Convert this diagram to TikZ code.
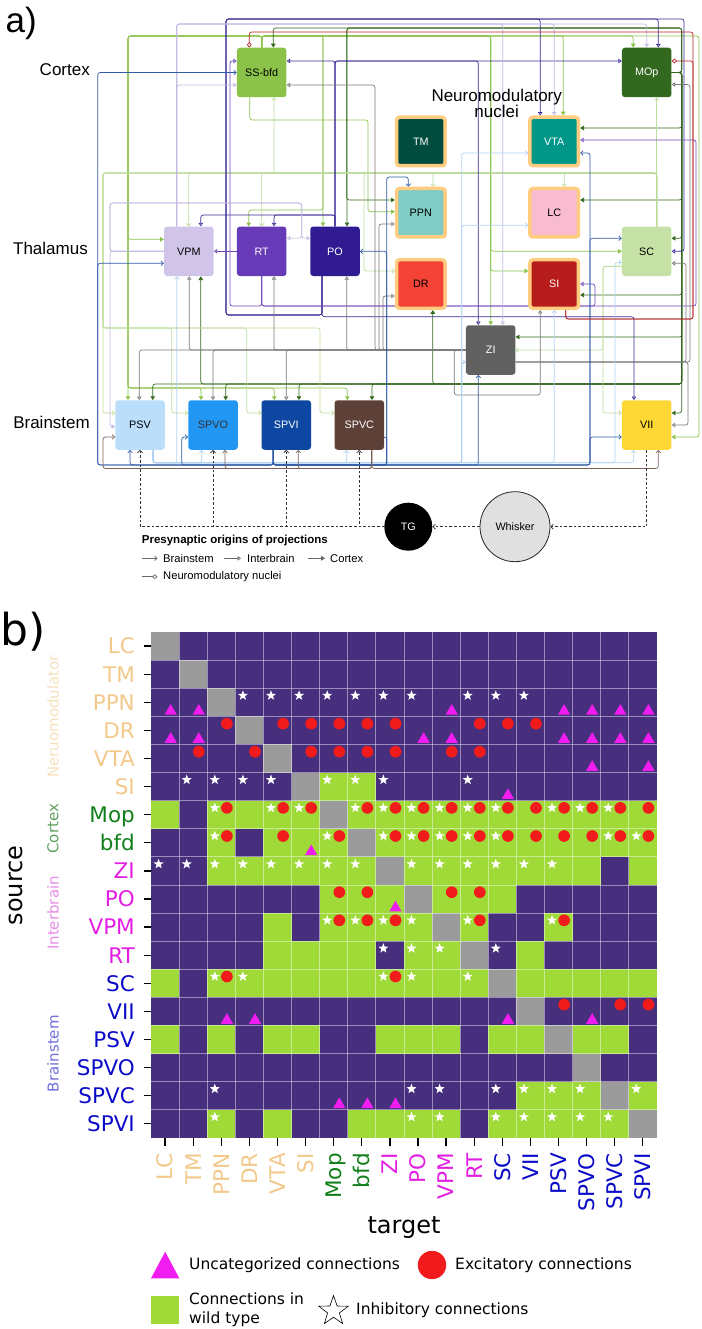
\documentclass[tikz,border=0pt]{standalone}
\usepackage{fontspec}
\setmainfont{DejaVu Sans}
\newfontfamily\arialfont{Liberation Sans}
\usetikzlibrary{arrows.meta,calc,shapes.geometric,shadows,backgrounds}
\definecolor{cSSbfd}{HTML}{8BC34A}
\definecolor{cMOp}{HTML}{33691E}
\definecolor{cVPM}{HTML}{D1C4E9}
\definecolor{cRT}{HTML}{673AB7}
\definecolor{cPO}{HTML}{311B92}
\definecolor{cTM}{HTML}{004D40}
\definecolor{cVTA}{HTML}{009688}
\definecolor{cPPN}{HTML}{80CBC4}
\definecolor{cLC}{HTML}{F8BBD0}
\definecolor{cDR}{HTML}{F44336}
\definecolor{cSI}{HTML}{B71C1C}
\definecolor{cSC}{HTML}{C5E1A5}
\definecolor{cZI}{HTML}{616161}
\definecolor{cPSV}{HTML}{BBDEFB}
\definecolor{cSPVO}{HTML}{2196F3}
\definecolor{cSPVI}{HTML}{0D47A1}
\definecolor{cSPVC}{HTML}{5D4037}
\definecolor{cVII}{HTML}{FDD835}
\definecolor{cNeuro}{HTML}{FFCC80}
\definecolor{cWhisker}{HTML}{E0E0E0}
\definecolor{lnSC}{HTML}{BCDC9C}
\definecolor{lnZI}{HTML}{7A7A7A}
\definecolor{lnPSV}{HTML}{B0D2F2}
\definecolor{lnSPVI}{HTML}{2F5AA5}
\definecolor{lnSPVC}{HTML}{7A6258}
\definecolor{lnVPM}{HTML}{C4B7E2}
\definecolor{lnPO}{HTML}{3A2A96}
\definecolor{lnRT}{HTML}{6E48B8}
\definecolor{lnSI}{HTML}{B52424}
\definecolor{cellP}{HTML}{472F7E}
\definecolor{cellG}{HTML}{A0DA39}
\definecolor{cellX}{HTML}{9B9B9B}
\definecolor{mkRed}{HTML}{F21B1B}
\definecolor{mkTri}{HTML}{F01CF0}
\definecolor{labNeu}{HTML}{F3C98B}
\definecolor{labCtx}{HTML}{12801A}
\definecolor{labInt}{HTML}{E31EE3}
\definecolor{labBst}{HTML}{0B0BC8}
\definecolor{grpNeu}{HTML}{F6E0BC}
\definecolor{grpCtx}{HTML}{5E9E5E}
\definecolor{grpInt}{HTML}{E88AE8}
\definecolor{grpBst}{HTML}{6E6EDC}
\begin{document}
\begin{tikzpicture}[x=1pt,y=-1pt,
  nucbox/.style={rounded corners=3pt, minimum size=49.5, inner sep=0pt, font=\arialfont\fontsize{10.8}{12}\selectfont},
  neubox/.style={nucbox, draw=cNeuro, line width=3.5pt, minimum size=48.5, drop shadow={shadow xshift=1.5pt, shadow yshift=-1.5pt, opacity=0.3}},
  region/.style={anchor=east, inner sep=0pt, font=\arialfont\fontsize{17}{20}\selectfont},
  conn/.style={line width=0.7pt, rounded corners=2.5pt},
  bs/.style={conn, -{Straight Barb[length=2.4pt,width=4.6pt]}},
  ib/.style={conn, -{Triangle[open,length=3.4pt,width=4.4pt]}},
  cx/.style={conn, -{Triangle[length=3.8pt,width=4.6pt]}},
  nm/.style={conn, -{Diamond[open,length=5.5pt,width=4.8pt]}},
  sens/.style={line width=0.75pt, dash pattern=on 2.6pt off 2pt, black!80, -{Straight Barb[length=2.4pt,width=5pt]}},
  leglbl/.style={anchor=west, inner sep=0pt, font=\arialfont\fontsize{11.2}{13}\selectfont},
  rowlbl/.style={anchor=east, inner sep=0pt, font=\fontsize{21.5}{24}\selectfont, text height=15.7pt, text depth=0pt},
  collbl/.style={rowlbl, rotate=90},
  grplbl/.style={rotate=90, inner sep=0pt, font=\fontsize{15}{17}\selectfont},
  tickmk/.style={line width=1.3pt, black},
  gridln/.style={white, opacity=0.45, line width=0.8pt},
  mkstar/.style={star, star points=5, star point ratio=2.4, minimum size=10.5, inner sep=0pt, fill=white},
  mkcirc/.style={circle, minimum size=11.7, inner sep=0pt, fill=mkRed},
  mktri/.style={regular polygon, regular polygon sides=3, minimum size=14.2, inner sep=0pt, fill=mkTri},
  keylbl/.style={anchor=west, inner sep=0pt, font=\fontsize{15.5}{18.7}\selectfont, align=left}
]
\useasboundingbox (0,0) rectangle (701,1329);

% a) nuclei
\node[nucbox, fill=cSSbfd] (ssbfd) at (261.7,72.5) {SS-bfd};
\node[nucbox, fill=cMOp, text=white] (mop) at (646.7,72.5) {MOp};
\node[nucbox, fill=cVPM] (vpm) at (188.8,251.3) {VPM};
\node[nucbox, fill=cRT, text=white] (rt) at (261.7,251.3) {RT};
\node[nucbox, fill=cPO, text=white] (po) at (335,251.3) {PO};
\node[nucbox, fill=cSC] (sc) at (646.7,251.3) {SC};
\node[nucbox, fill=cZI, text=white] (zi) at (490.7,350) {ZI};
\node[nucbox, fill=cPSV] (psv) at (140,425) {PSV};
\node[nucbox, fill=cSPVO, text=black!80] (spvo) at (213,425) {SPVO};
\node[nucbox, fill=cSPVI, text=white] (spvi) at (286.3,425) {SPVI};
\node[nucbox, fill=cSPVC, text=white] (spvc) at (359.3,425) {SPVC};
\node[nucbox, fill=cVII] (vii) at (646.7,425) {VII};
\node[neubox, fill=cTM, text=white] (tm) at (420.8,141.5) {TM};
\node[neubox, fill=cVTA, text=white] (vta) at (554.2,141.5) {VTA};
\node[neubox, fill=cPPN] (ppn) at (420.8,212.7) {PPN};
\node[neubox, fill=cLC] (lc) at (554.2,212.7) {LC};
\node[neubox, fill=cDR] (dr) at (420.8,284) {DR};
\node[neubox, fill=cSI, text=white] (si) at (554.2,284) {SI};
\node[circle, fill=black, minimum size=48, inner sep=0pt, text=white, font=\arialfont\fontsize{10.8}{12}\selectfont] (tg) at (408.3,526.7) {TG};
\node[circle, draw=black!85, line width=0.8pt, fill=cWhisker, minimum size=70, inner sep=0pt, font=\arialfont\fontsize{10.8}{12}\selectfont] (whisker) at (515,526.7) {Whisker};

\begin{scope}[on background layer]
% SS-bfd
\draw[cx,cSSbfd] (ssbfd.north) |- (128,36) |- ($(vpm.west)+(0,-12)$);
\draw[cx,cSSbfd] (ssbfd.north) |- (128,36) -- ($(psv.north)+(-12,0)$);
\draw[cx,cSSbfd] (ssbfd.north) |- (128,36) |- (201,388) -- ($(spvo.north)+(-12,0)$);
\draw[cx,cSSbfd] (ssbfd.north) |- (128,36) |- (274.3,388) -- ($(spvi.north)+(-12,0)$);
\draw[cx,cSSbfd] (ssbfd.north) |- (128,36) |- (347.3,388) -- ($(spvc.north)+(-12,0)$);
\draw[cx,cSSbfd] (ssbfd.north) |- (323,36) |- (248.7,210) -- ($(rt.north)+(-13,0)$);
\draw[cx,cSSbfd] (ssbfd.north) |- (323,36) -- ($(po.north)+(-12,0)$);
\draw[cx,cSSbfd] (ssbfd.north) |- (490.7,36) -- (zi.north);
\draw[cx,cSSbfd] (ssbfd.north) |- (490.7,36) |- ($(si.west)+(0,-13)$);
\draw[cx,cSSbfd] (ssbfd.north) |- (490.7,36) |- (sc.west);
\draw[cx,cSSbfd] (ssbfd.north) |- (563.2,36) -- ($(vta.north)+(9,0)$);
\draw[cx,cSSbfd] (ssbfd.north) |- (633.2,36) -- ($(mop.north)+(-13.5,0)$);
\draw[cx,cSSbfd] (ssbfd.north) |- (699,36) |- ($(vii.east)+(0,12)$);
\draw[cx,cSSbfd] ($(ssbfd.south)+(-12,0)$) |- (368,120) |- ($(ppn.west)+(0,-1)$);
% MOp
\draw[cx,cMOp] (mop.east) -| (681.7,28) -| ($(ssbfd.north)+(11.6,0)$);
\draw[cx,cMOp] (mop.east) -| (681.7,28) -| ($(po.north)+(12,0)$);
\draw[cx,cMOp] (mop.east) -| (681.7,28) -| (346.7,200) -- ($(ppn.west)+(0,-12.7)$);
\draw[cx,cMOp] (mop.east) -| (681.7,128) -- ($(vta.east)+(0,-13.5)$);
\draw[cx,cMOp] (mop.east) -| (681.7,200) -- ($(lc.east)+(0,-12.7)$);
\draw[cx,cMOp] (mop.east) -| (681.7,238.3) -- ($(sc.east)+(0,-13)$);
\draw[cx,cMOp] (mop.east) -| (681.7,295) -- ($(si.east)+(0,11)$);
\draw[cx,cMOp] (mop.east) -| (681.7,337) -- ($(zi.east)+(0,-13)$);
\draw[cx,cMOp] (mop.east) -| (681.7,413) -- ($(vii.east)+(0,-12)$);
\draw[cx,cMOp] (mop.east) -| (681.7,384) -| ($(dr.south)+(12,0)$);
\draw[cx,cMOp] (mop.east) -| (681.7,384) -| ($(vpm.south)+(12,0)$);
\draw[cx,cMOp] (mop.east) -| (681.7,384) -| ($(psv.north)+(12.7,0)$);
\draw[cx,cMOp] (mop.east) -| (681.7,384) -| ($(spvo.north)+(12.7,0)$);
\draw[cx,cMOp] (mop.east) -| (681.7,384) -| ($(spvi.north)+(12.7,0)$);
\draw[cx,cMOp] (mop.east) -| (681.7,384) -| ($(spvc.north)+(12.7,0)$);
% SC
\draw[bs,lnSC] ($(sc.north)+(10,0)$) -- ($(mop.south)+(10,0)$);
\draw[bs,lnSC] ($(sc.north)+(10,0)$) |- (274,173) -- ($(ssbfd.south)+(12.3,0)$);
\draw[bs,lnSC] ($(sc.north)+(10,0)$) |- (188.8,173) -- (vpm.north);
\draw[bs,lnSC] ($(sc.north)+(10,0)$) |- (261.7,173) -- (rt.north);
\draw[bs,lnSC] ($(sc.north)+(10,0)$) |- (433,173) -- ($(ppn.north)+(12.2,0)$);
\draw[bs,lnSC] ($(sc.north)+(10,0)$) |- (564.2,173) -- ($(lc.north)+(10,0)$);
\draw[bs,lnSC] ($(sc.north)+(10,0)$) |- (364,173) |- ($(dr.west)+(0,-13)$);
\draw[bs,lnSC] ($(sc.north)+(10,0)$) |- (103,173) |- ($(psv.west)+(0,-12)$);
\draw[bs,lnSC] ($(sc.north)+(10,0)$) |- (103,173) |- (171.7,328) |- ($(spvo.west)+(0,-12)$);
\draw[bs,lnSC] ($(sc.north)+(10,0)$) |- (103,173) |- (246.7,328) |- ($(spvi.west)+(0,-12)$);
\draw[bs,lnSC] ($(sc.north)+(10,0)$) |- (103,173) |- (320,328) |- ($(spvc.west)+(0,-12)$);
\draw[bs,lnSC] ($(sc.west)+(0,15)$) -| (603,350) -- (zi.east);
\draw[bs,lnSC] ($(sc.west)+(0,15)$) -| (603,413) -- ($(vii.west)+(0,-12)$);
% PO
\draw[ib,lnPO] ($(po.south)+(-13,0)$) |- (226,315) |- (658.3,19) -- ($(mop.north)+(11.6,0)$);
\draw[ib,lnPO] ($(po.south)+(-13,0)$) |- (226,315) |- (540.2,19) -- ($(vta.north)+(-14,0)$);
\draw[ib,lnPO] ($(po.south)+(-13,0)$) |- (226,315) |- (684,19) |- (sc.east);
\draw[ib,lnPO] ($(po.south)+(-13,0)$) -- (322,316.7) -| ($(vii.north)+(-12.7,0)$);
\draw[ib,lnPO] (po.north) |- ($(ssbfd.east)+(0,-11.5)$);
\draw[ib,lnPO] (po.north) |- ($(mop.west)+(0,-11.5)$);
\draw[ib,lnPO] (po.north) |- (478.3,61) -- ($(zi.north)+(-12.4,0)$);
\draw[ib,lnPO] (po.north) |- (200.8,215) -- ($(vpm.north)+(12,0)$);
\draw[ib,lnPO] (po.north) |- (274,215) -- ($(rt.north)+(12.3,0)$);
% RT
\draw[ib,lnRT] (rt.west) -- (vpm.east);
\draw[ib,lnRT] (rt.south) |- (595,306) |- (si.east);
\draw[ib,lnRT] (rt.south) |- (696,306) |- ($(vta.east)+(0,-1.5)$);
\draw[ib,lnRT] (rt.south) |- (230,306) |- ($(ssbfd.west)+(0,-11.5)$);
% ZI
\draw[ib,lnZI] (zi.west) -| ($(psv.north)+(-0.7,0)$);
\draw[ib,lnZI] (zi.west) -| (spvo.north);
\draw[ib,lnZI] (zi.west) -| (spvi.north);
\draw[ib,lnZI] (zi.west) -| ($(vpm.south)+(0.5,0)$);
\draw[ib,lnZI] (zi.west) -| ($(rt.south)+(12.3,0)$);
\draw[ib,lnZI] (zi.west) -| ($(po.south)+(11.7,0)$);
\draw[ib,lnZI] (zi.west) -| (375,85) -- ($(ssbfd.east)+(0,12.5)$);
\draw[ib,lnZI] (zi.west) -| (379,224) -- ($(ppn.west)+(0,11.3)$);
\draw[ib,lnZI] (zi.west) -| (383,296) -- ($(dr.west)+(0,12)$);
\draw[ib,lnZI] (zi.west) -- (454.3,350) |- (540.2,395) -- ($(si.south)+(-14,0)$);
\draw[ib,lnZI] ($(zi.east)+(0,12)$) -| (688,425) -- (vii.east);
\draw[ib,lnZI] ($(zi.east)+(0,12)$) -| (686,263.3) -- ($(sc.east)+(0,12)$);
\draw[ib,lnZI] ($(zi.east)+(0,12)$) -| (690,84.5) -- ($(mop.east)+(0,12)$);
% VPM
\draw[ib,lnVPM] ($(vpm.north)+(-12,0)$) |- (554.2,24) -- (vta.north);
\draw[ib,lnVPM] ($(vpm.north)+(-12,0)$) |- (646.7,24) -- (mop.north);
\draw[ib,lnVPM] ($(vpm.north)+(-12,0)$) |- (502.7,24) -- ($(zi.north)+(12,0)$);
\draw[ib,lnVPM] ($(vpm.north)+(-12,0)$) |- ($(ssbfd.west)+(0,12.5)$);
\draw[ib,lnVPM] (vpm.west) -| (110,203) -| (301.7,238) -- ($(po.west)+(0,-13)$);
\draw[ib,lnVPM] (vpm.west) -| (110,203) -| (301.7,238) -- ($(rt.east)+(0,-13)$);
\draw[ib,lnVPM] (vpm.west) -| (110,426.7) -- ($(psv.west)+(0,1.7)$);
% PSV
\draw[bs,lnPSV] ($(psv.south)+(13,0)$) |- (201.7,462.7) -- ($(spvo.south)+(-11.3,0)$);
\draw[bs,lnPSV] ($(psv.south)+(13,0)$) |- (346.7,462.7) -- ($(spvc.south)+(-12.6,0)$);
\draw[bs,lnPSV] ($(psv.south)+(13,0)$) |- (633.7,462.7) -- ($(vii.south)+(-13,0)$);
\draw[bs,lnPSV] ($(psv.south)+(13,0)$) |- (461.7,462.7) |- ($(zi.west)+(0,12)$);
\draw[bs,lnPSV] ($(psv.south)+(13,0)$) |- (554.2,462.7) -- (si.south);
\draw[bs,lnPSV] ($(psv.south)+(13,0)$) |- (615,462.7) |- ($(sc.west)+(0,11)$);
\draw[bs,lnPSV] ($(psv.south)+(13,0)$) |- (461.7,462.7) |- ($(vta.west)+(0,11.5)$);
\draw[bs,lnPSV] ($(psv.south)+(13,0)$) |- (461.7,462.7) |- ($(lc.west)+(0,12.5)$);
\draw[bs,lnPSV] ($(psv.south)+(13,0)$) |- (176.8,462.7) -- ($(vpm.south)+(-12,0)$);
% SPVI
\draw[bs,lnSPVI] ($(spvi.south)+(-13,0)$) |- (97.7,465) |- (ssbfd.west);
\draw[bs,lnSPVI] ($(spvi.south)+(-13,0)$) |- (97.7,465) |- ($(vpm.west)+(0,12)$);
\draw[bs,lnSPVI] ($(spvi.south)+(-13,0)$) |- (130,465) -- ($(psv.south)+(-10,0)$);
\draw[bs,lnSPVI] ($(spvi.south)+(-13,0)$) |- (181.7,465) |- ($(spvo.west)+(0,12)$);
\draw[bs,lnSPVI] ($(spvi.south)+(-13,0)$) |- (478.3,465) -- ($(zi.south)+(-12.4,0)$);
\draw[bs,lnSPVI] ($(spvi.south)+(-13,0)$) |- (386.7,465) |- (408.3,177) -- ($(ppn.north)+(-12.5,0)$);
\draw[bs,lnSPVI] ($(spvi.south)+(-13,0)$) |- (386.7,465) |- ($(spvc.east)+(0,12)$);
\draw[bs,lnSPVI] ($(spvi.south)+(-13,0)$) |- (386.7,465) |- (po.east);
\draw[bs,lnSPVI] ($(spvi.south)+(-13,0)$) |- (590,465) |- ($(vta.east)+(0,11.5)$);
\draw[bs,lnSPVI] ($(spvi.south)+(-13,0)$) |- (590,465) |- ($(sc.west)+(0,-13)$);
\draw[bs,lnSPVI] ($(spvi.south)+(-13,0)$) |- (590,465) |- ($(vii.west)+(0,12)$);
% SPVC
\draw[bs,lnSPVC] ($(spvc.south)+(12.4,0)$) |- (103,468.5) |- ($(psv.west)+(0,12)$);
\draw[bs,lnSPVC] ($(spvc.south)+(12.4,0)$) |- (225,468.5) -- ($(spvo.south)+(12,0)$);
\draw[bs,lnSPVC] ($(spvc.south)+(12.4,0)$) |- (298.3,468.5) -- ($(spvi.south)+(12,0)$);
\draw[bs,lnSPVC] ($(spvc.south)+(12.4,0)$) |- (658.3,468.5) -- ($(vii.south)+(11.6,0)$);
% SI
\draw[nm,lnSI] ($(si.south)+(11.5,0)$) |- (693,319) |- (600,32) -| ($(ssbfd.north)+(-12.4,0)$);
\draw[nm,lnSI] ($(si.south)+(11.5,0)$) |- (693,319) |- ($(mop.east)+(0,-11.5)$);
% whisker pathway
\draw[sens] (vii.south) |- (whisker.east);
\draw[sens] (whisker.west) -- (tg.east);
\draw[sens] (tg.west) -| (psv.south);
\draw[sens] (tg.west) -| (spvo.south);
\draw[sens] (tg.west) -| (spvi.south);
\draw[sens] (tg.west) -| (spvc.south);
\end{scope}

\node[anchor=base west, inner sep=0pt, font=\arialfont\fontsize{35}{40}\selectfont] (lbla) at (5.5,32.5) {a)};
\node[region] (lblctx) at (90,70) {Cortex};
\node[region] (lblthal) at (88,248) {Thalamus};
\node[region] (lblbst) at (90,422.7) {Brainstem};
\node[align=center, inner sep=0pt, font=\arialfont\fontsize{17}{16.7}\selectfont] (lblneu) at (496.7,103.3) {Neuromodulatory\\nuclei};

\node[anchor=west, inner sep=0pt, font=\arialfont\bfseries\fontsize{11.5}{13}\selectfont] (legtitle) at (141.7,540.7) {Presynaptic origins of projections};
\coordinate (lgb1) at (141.5,558.3); \coordinate (lgb2) at (157.5,558.3);
\coordinate (lgi1) at (224,558.3); \coordinate (lgi2) at (241,558.3);
\coordinate (lgc1) at (308,558.3); \coordinate (lgc2) at (325,558.3);
\coordinate (lgn1) at (141.5,576.7); \coordinate (lgn2) at (157.5,576.7);
\draw[bs,black!60] (lgb1) -- (lgb2);
\draw[ib,black!60] (lgi1) -- (lgi2);
\draw[cx,black!60] (lgc1) -- (lgc2);
\draw[nm,black!60] (lgn1) -- (lgn2);
\node[leglbl] (lgbtxt) at (163,558.3) {Brainstem};
\node[leglbl] (lgitxt) at (247,558.3) {Interbrain};
\node[leglbl] (lgctxt) at (330,558.3) {Cortex};
\node[leglbl] (lgntxt) at (163,576.7) {Neuromodulatory nuclei};

% b) matrix
\node[anchor=base west, inner sep=0pt, font=\fontsize{44}{48}\selectfont] (lblb) at (0,645.5) {b)};
\fill[cellP] (151,632) rectangle (656.8,1137.8);
\foreach \r/\cl in {5/{6,7},6/{0,2,3,4,5,7,8,9,10,11,12,13,14,15,16,17},7/{2,4,5,6,8,9,10,11,12,13,14,15,16,17},8/{2,3,4,5,6,7,9,10,11,12,13,14,15,17},9/{6,7,8,10,11,12},10/{4,6,7,8,9,11,14},11/{4,5,6,7,9,10,13},12/{0,2,3,4,5,6,7,8,9,10,11,13,14,15,16,17},14/{0,2,4,5,8,9,10,12,13,15,16},16/{13,14,15,17},17/{2,4,7,8,9,10,12,13,14,15,16}}
  \foreach \c in \cl
    \fill[cellG] (151+28.1*\c,632+28.1*\r) rectangle ++(28.1,28.1);
\foreach \i in {0,...,17}
  \fill[cellX] (151+28.1*\i,632+28.1*\i) rectangle ++(28.1,28.1);
\foreach \i in {1,...,17}{
  \draw[gridln] (151+28.1*\i,632) -- (151+28.1*\i,1137.8);
  \draw[gridln] (151,632+28.1*\i) -- (656.8,632+28.1*\i);
}
\foreach \r/\cl in {2/{3,4,5,6,7,8,9,11,12,13},5/{1,2,3,4,6,7,8,11},6/{2,4,5,7,8,9,10,11,12,14,15,16},7/{2,6,8,9,10,11,12,16,17},8/{0,1,2,3,4,5,6,7,9,10,11,12,13,14},10/{6,7,8,9,11,14},11/{8,9,10,12},12/{2,3,8,9,11},16/{2,9,10,12,13,14,15,17},17/{2,9,10,12,13,14,15,16}}
  \foreach \c in \cl
    \node[mkstar] (st\r-\c) at (158.6+28.1*\c,639.3+28.1*\r) {};
\foreach \r/\cl in {3/{2,4,5,6,7,8,11,12,13},4/{1,3,5,6,7,8,10,11},6/{2,4,5,7,8,9,10,11,12,13,14,15,16,17},7/{2,4,6,8,9,10,11,12,13,14,15,16,17},9/{6,7,10,11},10/{6,7,8,11,14},12/{2,8},13/{14,16,17}}
  \foreach \c in \cl
    \node[mkcirc] (ex\r-\c) at (170.7+28.1*\c,639.3+28.1*\r) {};
\foreach \r/\cl in {2/{0,1,10,14,15,16,17},3/{0,1,9,10,14,15,16,17},4/{15,17},5/{12},7/{5},9/{8},13/{2,3,12,15},16/{6,7,8}}
  \foreach \c in \cl
    \node[mktri] (un\r-\c) at (170.7+28.1*\c,654.9+28.1*\r) {};

\foreach \name/\lc [count=\r from 0] in {LC/labNeu,TM/labNeu,PPN/labNeu,DR/labNeu,VTA/labNeu,SI/labNeu,Mop/labCtx,bfd/labCtx,ZI/labInt,PO/labInt,VPM/labInt,RT/labInt,SC/labBst,VII/labBst,PSV/labBst,SPVO/labBst,SPVC/labBst,SPVI/labBst}{
  \node[rowlbl, text=\lc] (src\r) at (135,646.05+28.1*\r) {\name};
  \node[collbl, text=\lc] (tgt\r) at (165.05+28.1*\r,1153) {\name};
  \draw[tickmk] (143.5,646.05+28.1*\r) -- (151,646.05+28.1*\r);
  \draw[tickmk] (165.05+28.1*\r,1138) -- (165.05+28.1*\r,1145.5);
}
\node[grplbl, text=grpNeu] (grpneu) at (53,716.3) {Neruomodulator};
\node[grplbl, text=grpCtx] (grpctx) at (53,828.7) {Cortex};
\node[grplbl, text=grpInt] (grpint) at (53,913) {Interbrain};
\node[grplbl, text=grpBst] (grpbst) at (53,1053.6) {Brainstem};
\node[rotate=90, inner sep=0pt, font=\fontsize{24}{28}\selectfont] (ysource) at (15.8,885.5) {source};
\node[inner sep=0pt, font=\fontsize{24}{28}\selectfont] (xtarget) at (404,1228) {target};

% legend of b)
\fill[mkTri] (151,1278.3) -- (179.3,1278.3) -- (165.2,1251.7) -- cycle;
\node[keylbl] (keyun) at (189,1265) {Uncategorized connections};
\fill[mkRed] (432,1265) circle[radius=14.2];
\node[keylbl] (keyex) at (455,1265) {Excitatory connections};
\fill[cellG] (151,1295.7) rectangle (179.3,1324);
\node[keylbl] (keywt) at (189,1309.5) {Connections in\\wild type};
\node[star, star points=5, star point ratio=2.5, draw=black, line width=0.6pt, minimum size=31, inner sep=0pt] (keystar) at (333.5,1311) {};
\node[keylbl] (keyin) at (356,1310) {Inhibitory connections};
\end{tikzpicture}
\end{document}
